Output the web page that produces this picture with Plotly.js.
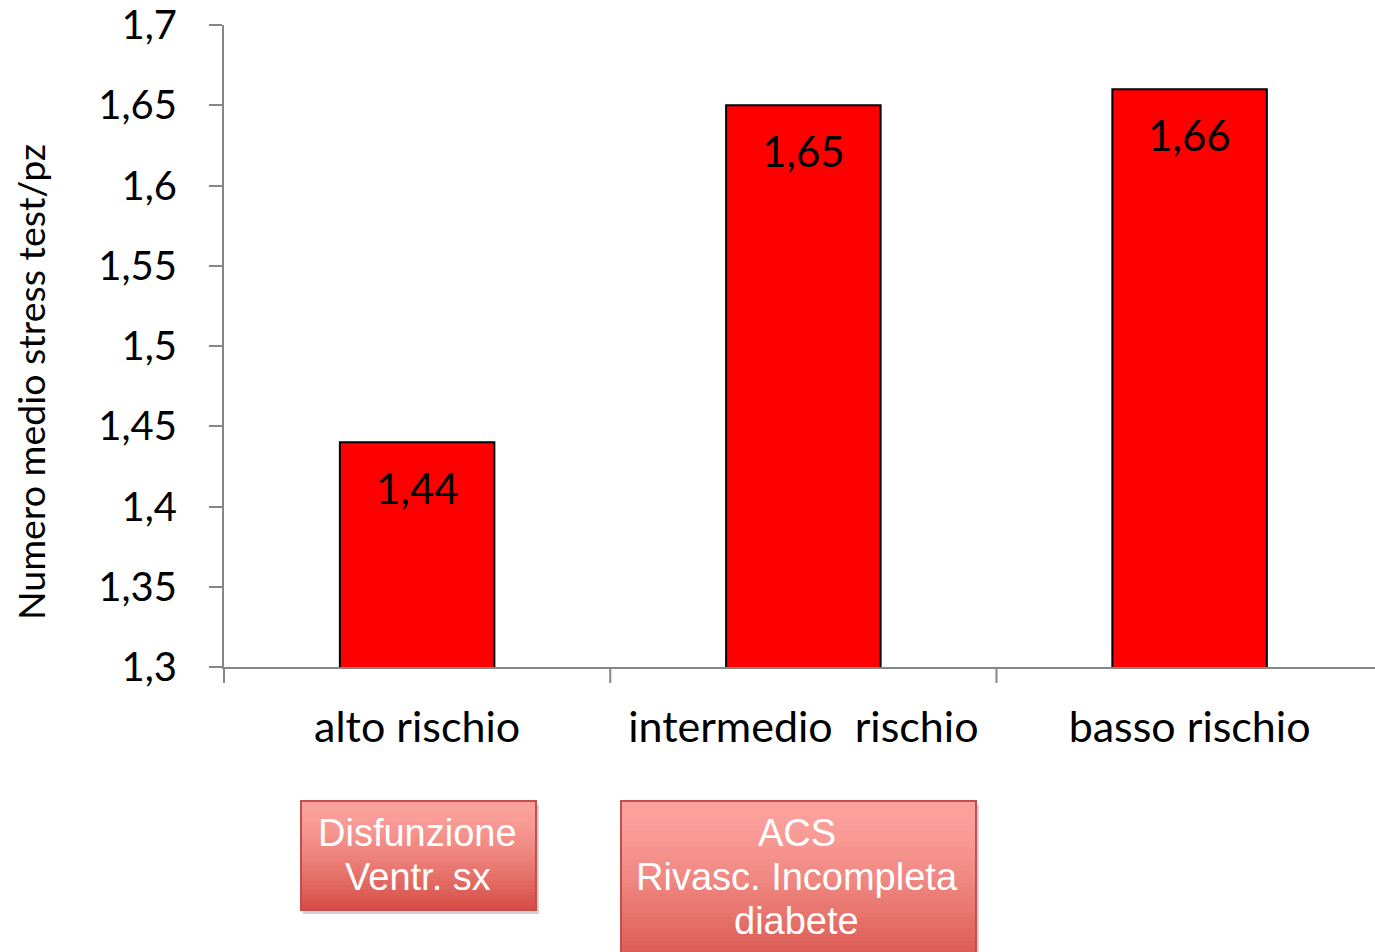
<!DOCTYPE html>
<html>
<head>
<meta charset="utf-8">
<script src="https://cdn.plot.ly/plotly-3.0.1.min.js"></script>
<style>html,body{margin:0;padding:0;overflow:hidden;background:#fff}</style>
</head>
<body>
<div id="chart" style="width:1375px;height:952px"></div>
<script>
const categories = ["alto rischio", "intermedio  rischio", "basso rischio"];
const values = [1.44, 1.65, 1.66];
const yTitle = "Numero medio stress test/pz";
const boxLines = [["Disfunzione", "Ventr. sx"], ["ACS", "Rivasc. Incompleta", "diabete"]];

(function () {
const W = 1375, H = 952;
const L = 224, R = 1375, T = 25, B = 667;
const px = v => (v - L) / (R - L);
const py = v => (B - v) / (B - T);

const boxes = [
  {x0: 301, x1: 536, y0: 801, y1: 910},
  {x0: 621, x1: 976, y0: 801, y1: 975}
];
const shapes = [];
const cTop = [252, 162, 157], cBot = [214, 78, 70];
boxes.forEach(b => {
  shapes.push({type: 'rect', xref: 'paper', yref: 'paper', x0: px(b.x0 + 2), x1: px(b.x1 + 3), y0: py(b.y1 + 4), y1: py(b.y0 + 4), fillcolor: 'rgba(0,0,0,0.18)', line: {width: 0}, layer: 'above'});
  const n = 30;
  for (let i = 0; i < n; i++) {
    const t = Math.pow(i / (n - 1), 1.4);
    const c = cTop.map((v, k) => Math.round(v + (cBot[k] - v) * t));
    const ya = b.y0 + (b.y1 - b.y0) * i / n, yb = b.y0 + (b.y1 - b.y0) * (i + 1) / n + 0.6;
    shapes.push({type: 'rect', xref: 'paper', yref: 'paper', x0: px(b.x0), x1: px(b.x1), y0: py(yb), y1: py(ya), fillcolor: `rgb(${c.join(',')})`, line: {width: 0}, layer: 'above'});
  }
  shapes.push({type: 'rect', xref: 'paper', yref: 'paper', x0: px(b.x0), x1: px(b.x1), y0: py(b.y1), y1: py(b.y0), fillcolor: 'rgba(0,0,0,0)', line: {color: '#c0504d', width: 2}, layer: 'above'});
});

const annotations = [];
boxLines.forEach((lines, i) => {
  const b = boxes[i];
  lines.forEach((t, j) => {
    annotations.push({xref: 'paper', yref: 'paper', x: px((b.x0 + b.x1) / 2 + (i === 0 ? -1 : -2)), y: py(833 + 44 * j), text: t, showarrow: false, xanchor: 'center', yanchor: 'middle', font: {family: 'Liberation Sans, Arial, sans-serif', size: 38, color: '#ffffff'}});
  });
});
values.forEach((v, i) => {
  annotations.push({x: i, y: v, xref: 'x', yref: 'y', text: String(v).replace('.', ','), showarrow: false, yanchor: 'top', yshift: -19, font: {family: 'Lato, sans-serif', size: 42, color: '#000'}});
});
annotations.push({xref: 'paper', yref: 'paper', x: px(30), y: py(382), text: yTitle, textangle: -90, showarrow: false, xanchor: 'center', yanchor: 'middle', font: {family: 'Lato, sans-serif', size: 37.5, color: '#000'}});

const trace = {
  type: 'bar', x: [0, 1, 2], y: values,
  marker: {color: '#ff0000', line: {color: '#000000', width: 2}},
  width: 0.4, hoverinfo: 'none'
};

const layout = {
  width: W, height: H,
  margin: {l: L, r: W - R, t: T, b: H - B},
  paper_bgcolor: '#ffffff', plot_bgcolor: '#ffffff',
  separators: ',.',
  showlegend: false,
  font: {family: 'Lato, sans-serif', color: '#000'},
  xaxis: {
    range: [-0.5, 2.48], tickvals: [0, 1, 2], ticktext: categories,
    showgrid: false, zeroline: false, showline: true, linecolor: '#868686', linewidth: 2,
    ticks: '', tickfont: {size: 43, color: '#000'}, ticklabelstandoff: 21, fixedrange: true
  },
  yaxis: {
    range: [1.3, 1.7], dtick: 0.05, tick0: 1.3,
    showgrid: false, zeroline: false, showline: true, linecolor: '#868686', linewidth: 2,
    ticks: 'outside', ticklen: 13, tickwidth: 2, tickcolor: '#868686',
    tickfont: {size: 40, color: '#000'}, ticklabelstandoff: 24, ticklabeloverflow: 'allow',
    fixedrange: true
  },
  shapes: shapes.concat([0.5, 1.5].map(v => ({type: 'line', xref: 'x', yref: 'paper', x0: v, x1: v, y0: 0, y1: -16 / (B - T), line: {color: '#868686', width: 2}})))
    .concat([{type: 'line', xref: 'paper', yref: 'paper', x0: 0, x1: 0, y0: 0, y1: -16 / (B - T), line: {color: '#868686', width: 2}}]),
  annotations: annotations
};

Plotly.newPlot('chart', [trace], layout, {displayModeBar: false, staticPlot: true});
})();
</script>
</body>
</html>
